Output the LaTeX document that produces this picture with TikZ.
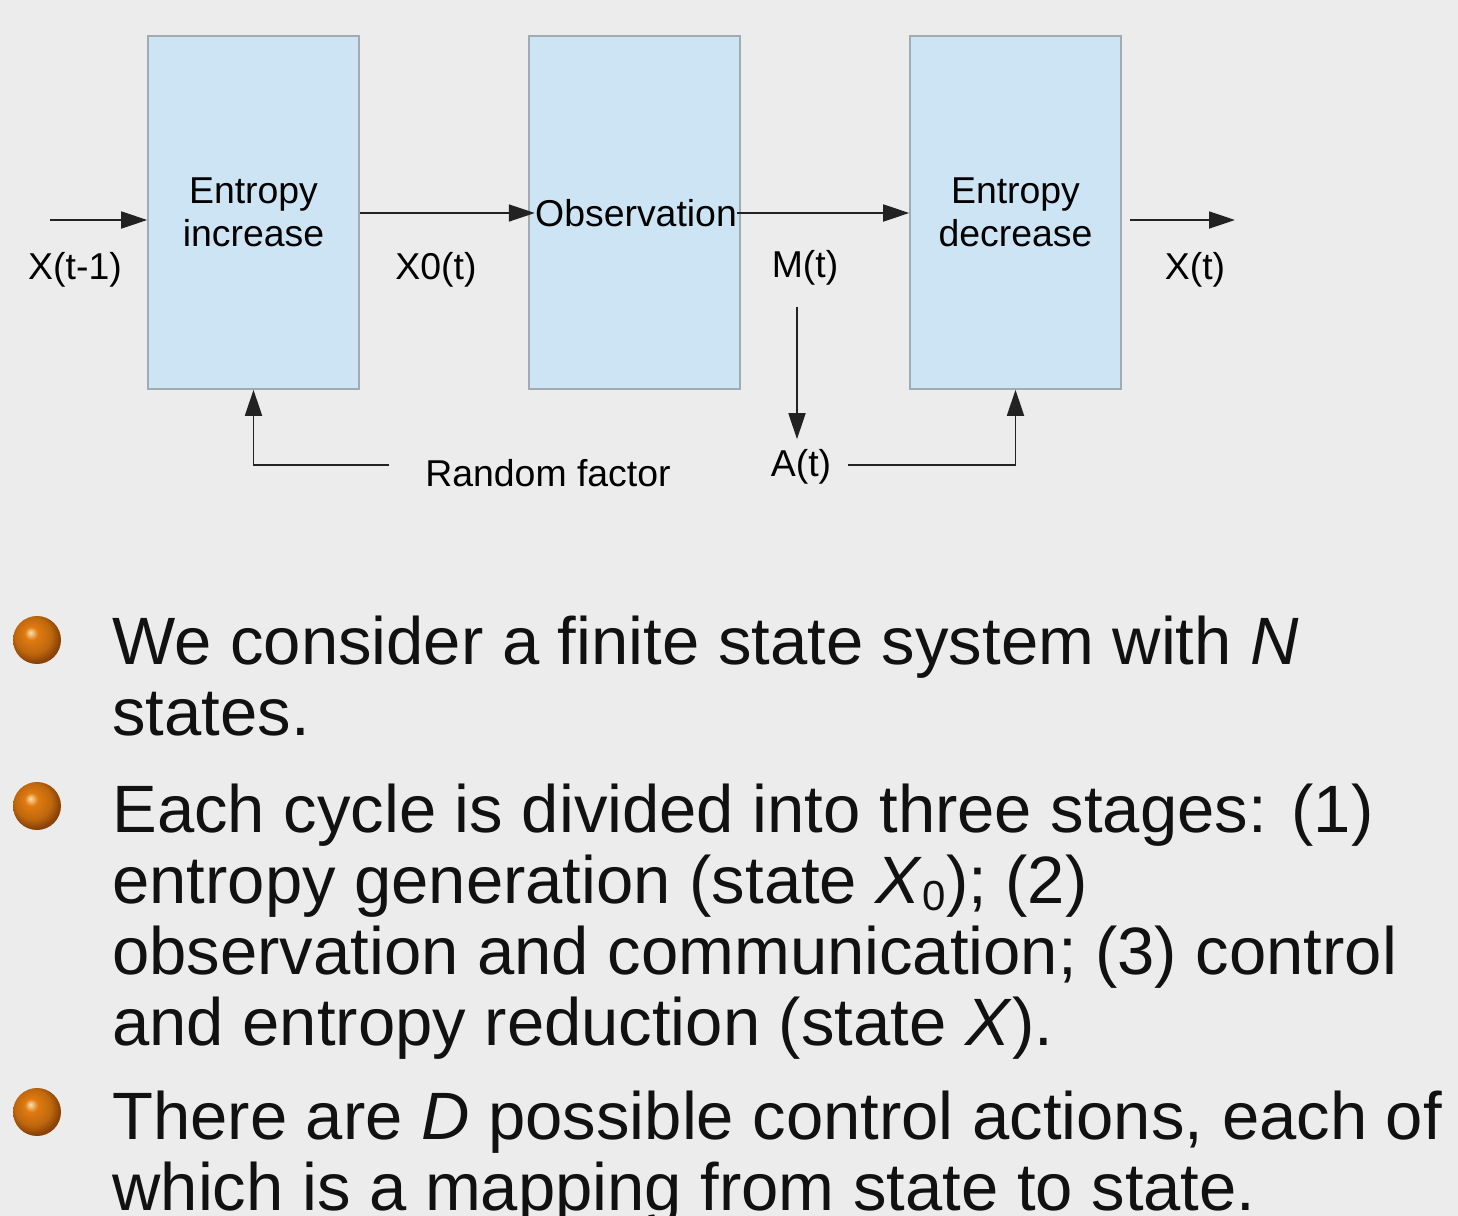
\documentclass[tikz,border=0pt]{standalone}
\usepackage{fontspec}
\setmainfont{Liberation Sans}
\usetikzlibrary{arrows.meta, positioning}
\definecolor{pagebg}{HTML}{ECECEC}
\definecolor{stagebox}{HTML}{CDE4F4}
\definecolor{stageborder}{HTML}{A3ABB2}
\definecolor{flowline}{HTML}{222222}
\definecolor{bulletorange}{HTML}{E07A10}
\definecolor{bulletlight}{HTML}{FCE0B0}
\definecolor{bulletdark}{HTML}{8A4206}
\definecolor{bullettextcol}{HTML}{111111}
\pgfdeclareradialshading{orangeball}{\pgfpoint{-7pt}{8pt}}{color(0pt)=(bulletlight); color(7pt)=(bulletorange); color(19pt)=(bulletorange!85!black); color(27pt)=(bulletdark); color(50pt)=(bulletdark)}
\newcommand{\diagfont}{\fontsize{18.7}{21.5}\selectfont}
\newcommand{\itemfont}{\fontsize{33.5}{35.5}\selectfont}
\newcommand{\lowzero}{\raisebox{-3.5pt}{\fontsize{21}{21}\selectfont 0}}

\begin{document}
\begin{tikzpicture}[x=0.5pt, y=-0.5pt,
    stage/.style={rectangle, fill=stagebox, draw=stageborder, line width=0.8pt, minimum width=105.5pt, minimum height=176.5pt, align=center, font=\diagfont, inner sep=0pt},
    sig/.style={font=\diagfont, inner sep=2pt},
    arr/.style={draw=flowline, line width=0.9pt, -{Triangle[length=13pt,width=8.5pt]}},
    bulletball/.style={circle, minimum size=24pt, inner sep=0pt, shading=orangeball},
    bullettext/.style={font=\itemfont, text=bullettextcol, align=left, inner sep=0pt, anchor=base west}
]

% Page
\useasboundingbox (0,0) rectangle (1458,1216);
\fill[pagebg] (0,0) rectangle (1458,1216);

% Stages
\node[stage] (inc) at (253.5,212.5) {Entropy\\increase};
\node[stage] (obs) at (634.5,212.5) {};
\node[sig, inner sep=0pt] (obstxt) at (636,213) {Observation};
\node[stage] (dec) at (1015.5,212.5) {Entropy\\decrease};

% Signals
\node[sig] (xprev) at (75,270) {X(t-1)};
\node[sig] (xzero) at (436,270) {X0(t)};
\node[sig] (meas) at (805,268) {M(t)};
\node[sig] (xnow) at (1195,270) {X(t)};
\node[sig] (act) at (801,467) {A(t)};
\node[sig] (rnd) at (548,473) {Random factor};

% Forward path
\coordinate (xin) at (50,220);
\coordinate (xoutstart) at (1130,220);
\coordinate (xout) at (1235,220);
\draw[arr] (xin) -- (xin -| inc.west);
\draw[arr] (inc.east |- obstxt) -- (obstxt.west);
\draw[arr] (obstxt.east) -- (obstxt.east -| dec.west);
\draw[arr] (xoutstart) -- (xout);

% Action and feedback
\coordinate (mdown) at (797,307);
\draw[arr, shorten >=3pt] (mdown) -- (mdown |- act.north);
\draw[arr, shorten <=6pt] ([yshift=1pt]act.east) -| (dec.south);
\draw[arr, shorten <=16pt] ([yshift=4pt]rnd.west) -| (inc.south);

% Bullets
\node[bulletball] (ball1) at (37,640) {};
\node[bullettext] (item1) at (112,735) {We consider a finite state system with \textit{N}\\states.};
\node[bulletball] (ball2) at (37,806) {};
\node[bullettext] (item2) at (112,1045) {Each cycle is divided into three stages: (1)\\entropy generation (state \textit{X}\lowzero); (2)\\observation and communication; (3) control\\and entropy reduction (state \textit{X}).};
\node[bulletball] (ball3) at (37,1112) {};
\node[bullettext] (item3) at (112,1210) {There are \textit{D} possible control actions, each of\\which is a mapping from state to state.};

\end{tikzpicture}
\end{document}
